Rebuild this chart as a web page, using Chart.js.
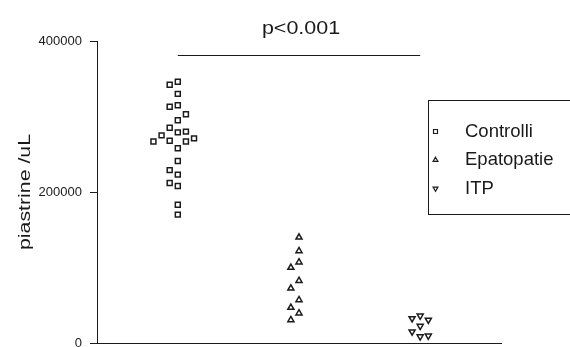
<!DOCTYPE html>
<html>
<head>
<meta charset="utf-8">
<script src="https://cdn.jsdelivr.net/npm/chart.js@4.4.0/dist/chart.umd.min.js"></script>
<style>
  html, body { margin: 0; padding: 0; background: #fff; }
  #wrap { width: 570px; height: 347px; }
</style>
</head>
<body>
<div id="wrap"><canvas id="chart" width="570" height="347"></canvas></div>
<script>
const groups = ["Controlli", "Epatopatie", "ITP"];
const controlli = [346000, 342000, 330000, 315000, 313000, 303000, 295000, 285000, 279000, 280000, 275000,
  268000, 267000, 271000, 267000, 258000, 241000, 229000, 223000, 212000, 208000, 183000, 170000];
const epatopatie = [140000, 122000, 107000, 100000, 82500, 72500, 57000, 47000, 39500, 30500];
const itp = [36000, 32500, 30500, 22500, 15000, 8500, 9500];
const yTicks = [0, 200000, 400000];
const yLabel = "piastrine /uL";
const pLabel = "p<0.001";
const bracketValue = 382000;

const FONT = "'Liberation Sans', Arial, sans-serif";
const INK = "#1a1a1a";

const series = [controlli, epatopatie, itp];
const pointStyles = ["rect", "triangle", "triangle"];
const rotations = [0, 0, 180];

// spread points sideways when they would overlap (greedy, no randomness)
function swarm(values, col, minGap, step){
  const placed = [];
  return values.map(v => {
    for (const k of [0, -1, 1, -2, 2, -3, 3]) {
      if (!placed.some(p => p.k === k && Math.abs(p.v - v) < minGap)) {
        placed.push({k, v});
        return {x: col + k * step, y: v};
      }
    }
    return {x: col, y: v};
  });
}

function stretchText(ctx, text, x, y, size, sx, angle, align){
  ctx.save();
  ctx.translate(x, y);
  ctx.rotate(angle);
  ctx.scale(sx, 1);
  ctx.font = size + "px " + FONT;
  ctx.fillStyle = INK;
  ctx.textAlign = align || "center";
  ctx.textBaseline = "alphabetic";
  ctx.fillText(text, 0, 0);
  ctx.restore();
}

const extras = {
  id: "extras",
  afterDraw(chart){
    const ctx = chart.ctx;
    const xs = chart.scales.x, ys = chart.scales.y;

    // p-value bracket
    const yb = Math.round(ys.getPixelForValue(bracketValue)) + 0.5;
    ctx.save();
    ctx.strokeStyle = INK;
    ctx.lineWidth = 1;
    ctx.beginPath();
    ctx.moveTo(xs.getPixelForValue(1), yb);
    ctx.lineTo(xs.getPixelForValue(3), yb);
    ctx.stroke();
    ctx.restore();
    stretchText(ctx, pLabel, xs.getPixelForValue(2) + 2, yb - 22, 19, 1.13, 0);

    // y axis title
    stretchText(ctx, yLabel, 29.5, (ys.top + ys.bottom) / 2, 16, 1.33, -Math.PI / 2);

    // legend box
    ctx.save();
    ctx.strokeStyle = INK;
    ctx.lineWidth = 1;
    ctx.strokeRect(428.5, 100.5, 150, 114);
    ctx.restore();
    chart.data.datasets.forEach((ds, i) => {
      const cy = 131.5 + i * 28.5;
      ctx.save();
      ctx.fillStyle = "#fff";
      ctx.strokeStyle = INK;
      ctx.lineWidth = 1.2;
      Chart.helpers.drawPoint(ctx, {pointStyle: ds.pointStyle, rotation: ds.rotation, radius: 2.8, borderWidth: 1.2}, 435.5, cy);
      ctx.restore();
      stretchText(ctx, ds.label, 465, cy + 5, 18.5, 1.0, 0, "left");
    });
  }
};

new Chart(document.getElementById("chart"), {
  type: "scatter",
  data: {
    datasets: groups.map((g, i) => ({
      label: g,
      data: swarm(series[i], i + 1, 12500, 0.067),
      pointStyle: pointStyles[i],
      rotation: rotations[i],
      pointRadius: 3.5,
      pointHoverRadius: 3.5,
      pointBorderWidth: 1.5,
      pointBorderColor: INK,
      pointBackgroundColor: "#fff"
    }))
  },
  options: {
    responsive: false,
    animation: false,
    devicePixelRatio: 1,
    layout: { autoPadding: false, padding: { top: 41, right: 69, bottom: 4, left: 0 } },
    plugins: {
      legend: { display: false },
      title: { display: false },
      tooltip: { enabled: false }
    },
    scales: {
      x: {
        type: "linear",
        min: 1 / 3,
        max: 11 / 3,
        ticks: { display: false },
        grid: { display: false },
        border: { color: INK, width: 1 },
        afterFit(s){ s.height = 0; s.paddingLeft = 0; s.paddingRight = 0; }
      },
      y: {
        min: 0,
        max: 400000,
        afterBuildTicks(s){ s.ticks = yTicks.map(v => ({value: v})); },
        ticks: {
          padding: 8,
          color: INK,
          font: { family: FONT, size: 13 },
          callback: v => String(v)
        },
        grid: { drawOnChartArea: false, tickLength: 7, color: INK },
        border: { color: INK, width: 1 },
        afterFit(s){ s.width = 97; s.paddingTop = 0; s.paddingBottom = 0; }
      }
    }
  },
  plugins: [extras]
});
</script>
</body>
</html>
